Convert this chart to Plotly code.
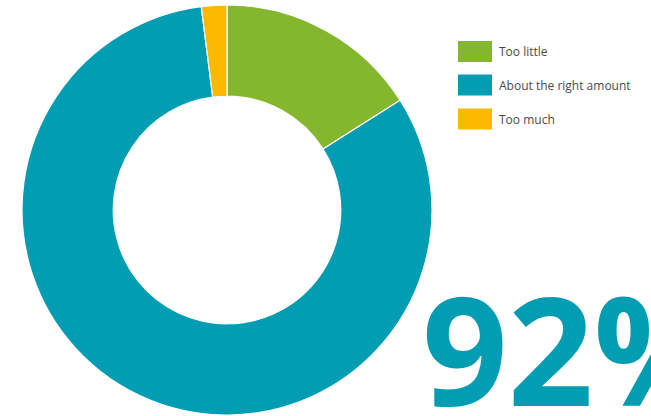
import plotly.graph_objects as go

# Survey response shares (percent)
categories = ["Too little", "About the right amount", "Too much"]
shares = [16, 82, 2]
colors = ["#84B72E", "#039DB3", "#FBBA00"]
headline = "92%"

W, H = 651, 416

fig = go.Figure()
fig.add_trace(go.Pie(
    labels=categories,
    values=shares,
    hole=0.555,
    sort=False,
    direction="clockwise",
    rotation=0,
    marker=dict(colors=colors, line=dict(color="white", width=1.2)),
    textinfo="none",
    hoverinfo="label+percent",
    domain=dict(x=[22 / W, 432 / W], y=[1 / H, 411 / H]),
    showlegend=False,
))

shapes = []
annotations = []
# Custom legend: wide colour swatches with labels
row_y = [51.5, 85, 119]
for lab, col, yc in zip(categories, colors, row_y):
    shapes.append(dict(
        type="rect", xref="paper", yref="paper",
        x0=458 / W, x1=492 / W,
        y0=1 - (yc + 10.5) / H, y1=1 - (yc - 10.5) / H,
        fillcolor=col, line=dict(width=0),
    ))
    annotations.append(dict(
        text=lab, xref="paper", yref="paper",
        x=497 / W, y=1 - yc / H, xanchor="left", yanchor="middle",
        showarrow=False,
        font=dict(family="Open Sans", size=12, color="#4a4a4a"),
    ))

# Large headline figure in the bottom-right corner
annotations.append(dict(
    text=headline, xref="paper", yref="paper",
    x=420 / W, y=1 - 348 / H, xanchor="left", yanchor="middle",
    showarrow=False,
    font=dict(family="Open Sans", size=150, color="#039DB3", weight=700),
))

fig.update_layout(
    width=W, height=H,
    margin=dict(l=0, r=0, t=0, b=0),
    paper_bgcolor="white",
    plot_bgcolor="white",
    shapes=shapes,
    annotations=annotations,
)

fig.write_html("out.html")
